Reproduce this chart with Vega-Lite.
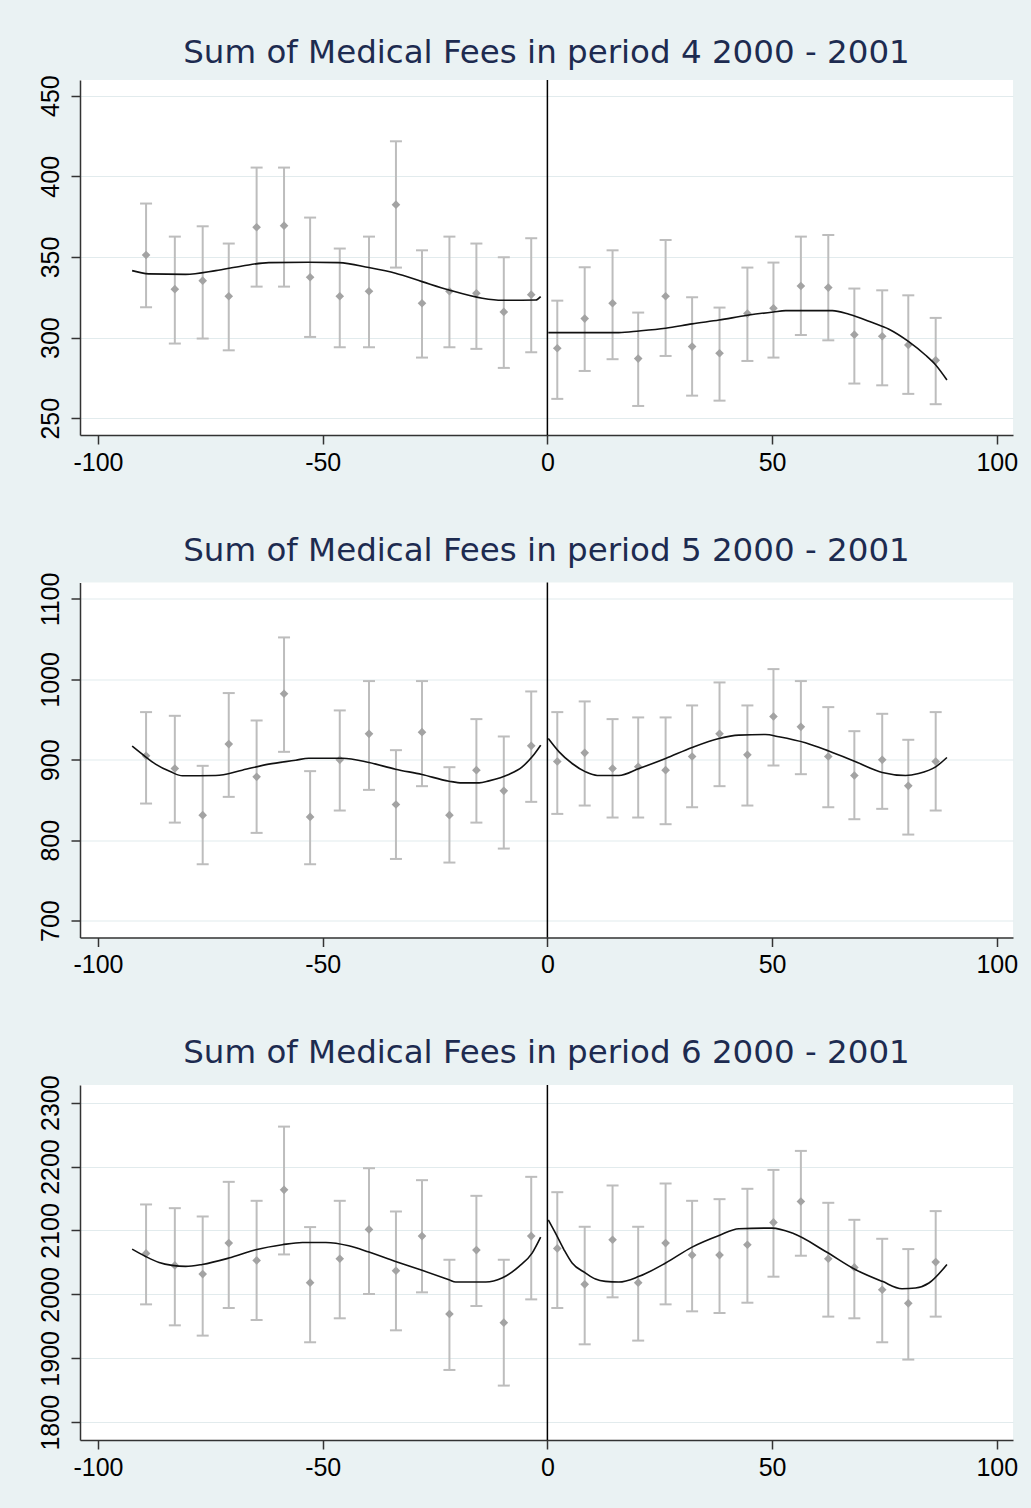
{
  "$schema": "https://vega.github.io/schema/vega-lite/v6.json",
  "background": "#EAF2F3",
  "padding": {"left": 37, "top": 37, "right": 17, "bottom": 30},
  "spacing": 147.5,
  "bounds": "flush",
  "datasets": {
    "pts": [
      {"panel": 4, "x": -89.3, "y": 351.2, "lo": 318.8, "hi": 383.1},
      {"panel": 4, "x": -82.9, "y": 330.0, "lo": 296.3, "hi": 362.6},
      {"panel": 4, "x": -76.7, "y": 335.3, "lo": 299.4, "hi": 369.0},
      {"panel": 4, "x": -70.9, "y": 325.6, "lo": 292.1, "hi": 358.3},
      {"panel": 4, "x": -64.7, "y": 368.4, "lo": 331.6, "hi": 405.4},
      {"panel": 4, "x": -58.6, "y": 369.4, "lo": 331.6, "hi": 405.4},
      {"panel": 4, "x": -52.8, "y": 337.4, "lo": 300.4, "hi": 374.4},
      {"panel": 4, "x": -46.2, "y": 325.6, "lo": 294.0, "hi": 355.2},
      {"panel": 4, "x": -39.7, "y": 328.7, "lo": 294.0, "hi": 362.6},
      {"panel": 4, "x": -33.7, "y": 382.4, "lo": 343.4, "hi": 421.7},
      {"panel": 4, "x": -27.9, "y": 321.3, "lo": 287.6, "hi": 354.1},
      {"panel": 4, "x": -21.8, "y": 328.7, "lo": 294.0, "hi": 362.6},
      {"panel": 4, "x": -15.8, "y": 327.5, "lo": 293.0, "hi": 358.3},
      {"panel": 4, "x": -9.7, "y": 315.9, "lo": 281.2, "hi": 349.8},
      {"panel": 4, "x": -3.6, "y": 326.6, "lo": 290.9, "hi": 361.6},
      {"panel": 4, "x": 2.2, "y": 293.4, "lo": 262.0, "hi": 322.9},
      {"panel": 4, "x": 8.3, "y": 311.8, "lo": 279.3, "hi": 343.6},
      {"panel": 4, "x": 14.5, "y": 321.3, "lo": 286.6, "hi": 354.1},
      {"panel": 4, "x": 20.2, "y": 287.0, "lo": 257.6, "hi": 315.5},
      {"panel": 4, "x": 26.3, "y": 325.6, "lo": 288.6, "hi": 360.5},
      {"panel": 4, "x": 32.2, "y": 294.4, "lo": 264.0, "hi": 325.0},
      {"panel": 4, "x": 38.3, "y": 290.3, "lo": 260.9, "hi": 318.6},
      {"panel": 4, "x": 44.5, "y": 314.9, "lo": 285.5, "hi": 343.4},
      {"panel": 4, "x": 50.3, "y": 318.2, "lo": 287.6, "hi": 346.5},
      {"panel": 4, "x": 56.4, "y": 332.0, "lo": 301.6, "hi": 362.6},
      {"panel": 4, "x": 62.5, "y": 331.0, "lo": 298.3, "hi": 363.6},
      {"panel": 4, "x": 68.3, "y": 301.8, "lo": 271.5, "hi": 330.4},
      {"panel": 4, "x": 74.5, "y": 300.8, "lo": 270.4, "hi": 329.3},
      {"panel": 4, "x": 80.3, "y": 295.4, "lo": 265.1, "hi": 326.2},
      {"panel": 4, "x": 86.4, "y": 285.9, "lo": 258.7, "hi": 312.2},
      {"panel": 5, "x": -89.3, "y": 904.9, "lo": 845.6, "hi": 959.3},
      {"panel": 5, "x": -82.9, "y": 889.2, "lo": 821.9, "hi": 954.7},
      {"panel": 5, "x": -76.7, "y": 831.1, "lo": 770.1, "hi": 892.5},
      {"panel": 5, "x": -70.9, "y": 919.5, "lo": 853.9, "hi": 983.0},
      {"panel": 5, "x": -64.7, "y": 878.8, "lo": 809.1, "hi": 948.9},
      {"panel": 5, "x": -58.6, "y": 982.1, "lo": 909.9, "hi": 1052.2},
      {"panel": 5, "x": -52.8, "y": 829.0, "lo": 770.1, "hi": 885.9},
      {"panel": 5, "x": -46.2, "y": 900.0, "lo": 836.9, "hi": 961.4},
      {"panel": 5, "x": -39.7, "y": 932.3, "lo": 862.6, "hi": 997.9},
      {"panel": 5, "x": -33.7, "y": 844.4, "lo": 776.7, "hi": 912.0},
      {"panel": 5, "x": -27.9, "y": 934.4, "lo": 867.2, "hi": 997.9},
      {"panel": 5, "x": -21.8, "y": 831.1, "lo": 772.2, "hi": 890.8},
      {"panel": 5, "x": -15.8, "y": 887.1, "lo": 821.9, "hi": 950.6},
      {"panel": 5, "x": -9.7, "y": 861.4, "lo": 789.6, "hi": 929.0},
      {"panel": 5, "x": -3.6, "y": 917.4, "lo": 847.7, "hi": 985.0},
      {"panel": 5, "x": 2.2, "y": 897.9, "lo": 832.7, "hi": 959.3},
      {"panel": 5, "x": 8.3, "y": 908.7, "lo": 843.1, "hi": 972.6},
      {"panel": 5, "x": 14.5, "y": 889.2, "lo": 828.2, "hi": 950.6},
      {"panel": 5, "x": 20.2, "y": 891.3, "lo": 828.2, "hi": 952.7},
      {"panel": 5, "x": 26.3, "y": 887.1, "lo": 819.9, "hi": 952.7},
      {"panel": 5, "x": 32.2, "y": 904.1, "lo": 841.0, "hi": 967.6},
      {"panel": 5, "x": 38.3, "y": 932.3, "lo": 867.2, "hi": 996.2},
      {"panel": 5, "x": 44.5, "y": 906.2, "lo": 843.1, "hi": 967.6},
      {"panel": 5, "x": 50.3, "y": 953.9, "lo": 892.9, "hi": 1012.8},
      {"panel": 5, "x": 56.4, "y": 941.0, "lo": 882.1, "hi": 997.9},
      {"panel": 5, "x": 62.5, "y": 904.1, "lo": 841.0, "hi": 965.5},
      {"panel": 5, "x": 68.3, "y": 880.5, "lo": 826.1, "hi": 935.6},
      {"panel": 5, "x": 74.5, "y": 900.0, "lo": 839.0, "hi": 957.2},
      {"panel": 5, "x": 80.3, "y": 867.6, "lo": 807.0, "hi": 924.9},
      {"panel": 5, "x": 86.4, "y": 897.9, "lo": 836.9, "hi": 959.3},
      {"panel": 6, "x": -89.3, "y": 2064.1, "lo": 1984.4, "hi": 2140.7},
      {"panel": 6, "x": -82.9, "y": 2045.4, "lo": 1951.6, "hi": 2134.9},
      {"panel": 6, "x": -76.7, "y": 2031.8, "lo": 1935.5, "hi": 2121.9},
      {"panel": 6, "x": -70.9, "y": 2080.3, "lo": 1978.7, "hi": 2176.1},
      {"panel": 6, "x": -64.7, "y": 2053.2, "lo": 1959.9, "hi": 2146.4},
      {"panel": 6, "x": -58.6, "y": 2163.6, "lo": 2062.5, "hi": 2262.5},
      {"panel": 6, "x": -52.8, "y": 2018.3, "lo": 1925.1, "hi": 2105.3},
      {"panel": 6, "x": -46.2, "y": 2055.8, "lo": 1962.6, "hi": 2146.4},
      {"panel": 6, "x": -39.7, "y": 2101.6, "lo": 2000.6, "hi": 2197.4},
      {"panel": 6, "x": -33.7, "y": 2037.0, "lo": 1943.8, "hi": 2129.7},
      {"panel": 6, "x": -27.9, "y": 2091.2, "lo": 2003.2, "hi": 2178.7},
      {"panel": 6, "x": -21.8, "y": 1969.3, "lo": 1881.8, "hi": 2054.2},
      {"panel": 6, "x": -15.8, "y": 2069.3, "lo": 1981.8, "hi": 2154.2},
      {"panel": 6, "x": -9.7, "y": 1955.8, "lo": 1857.3, "hi": 2054.2},
      {"panel": 6, "x": -3.6, "y": 2091.2, "lo": 1992.2, "hi": 2183.9},
      {"panel": 6, "x": 2.2, "y": 2071.9, "lo": 1978.7, "hi": 2159.9},
      {"panel": 6, "x": 8.3, "y": 2015.7, "lo": 1921.9, "hi": 2105.8},
      {"panel": 6, "x": 14.5, "y": 2085.5, "lo": 1995.4, "hi": 2170.4},
      {"panel": 6, "x": 20.2, "y": 2018.3, "lo": 1927.7, "hi": 2105.8},
      {"panel": 6, "x": 26.3, "y": 2080.3, "lo": 1984.4, "hi": 2173.5},
      {"panel": 6, "x": 32.2, "y": 2061.5, "lo": 1973.5, "hi": 2146.4},
      {"panel": 6, "x": 38.3, "y": 2061.5, "lo": 1970.9, "hi": 2149.0},
      {"panel": 6, "x": 44.5, "y": 2077.7, "lo": 1987.0, "hi": 2165.2},
      {"panel": 6, "x": 50.3, "y": 2112.6, "lo": 2027.7, "hi": 2194.8},
      {"panel": 6, "x": 56.4, "y": 2145.4, "lo": 2060.5, "hi": 2224.5},
      {"panel": 6, "x": 62.5, "y": 2055.8, "lo": 1965.2, "hi": 2143.3},
      {"panel": 6, "x": 68.3, "y": 2042.2, "lo": 1962.6, "hi": 2116.7},
      {"panel": 6, "x": 74.5, "y": 2007.3, "lo": 1925.1, "hi": 2087.0},
      {"panel": 6, "x": 80.3, "y": 1986.0, "lo": 1898.0, "hi": 2070.9},
      {"panel": 6, "x": 86.4, "y": 2050.6, "lo": 1965.2, "hi": 2130.3}
    ],
    "fit": [
      {"panel": 4, "side": "L", "x": -92.4, "y": 341.5},
      {"panel": 4, "side": "L", "x": -88.7, "y": 339.5},
      {"panel": 4, "side": "L", "x": -80.5, "y": 339.2},
      {"panel": 4, "side": "L", "x": -73.8, "y": 341.5},
      {"panel": 4, "side": "L", "x": -67.9, "y": 344.4},
      {"panel": 4, "side": "L", "x": -62.0, "y": 346.5},
      {"panel": 4, "side": "L", "x": -53.1, "y": 346.7},
      {"panel": 4, "side": "L", "x": -46.4, "y": 346.5},
      {"panel": 4, "side": "L", "x": -39.7, "y": 343.4},
      {"panel": 4, "side": "L", "x": -33.8, "y": 339.9},
      {"panel": 4, "side": "L", "x": -27.9, "y": 334.7},
      {"panel": 4, "side": "L", "x": -21.9, "y": 329.5},
      {"panel": 4, "side": "L", "x": -14.5, "y": 324.4},
      {"panel": 4, "side": "L", "x": -10.1, "y": 323.1},
      {"panel": 4, "side": "L", "x": -2.6, "y": 323.3},
      {"panel": 4, "side": "L", "x": -1.5, "y": 325.4},
      {"panel": 4, "side": "R", "x": 0.2, "y": 303.1},
      {"panel": 4, "side": "R", "x": 15.9, "y": 303.1},
      {"panel": 4, "side": "R", "x": 20.4, "y": 304.1},
      {"panel": 4, "side": "R", "x": 26.3, "y": 305.8},
      {"panel": 4, "side": "R", "x": 32.2, "y": 308.5},
      {"panel": 4, "side": "R", "x": 38.2, "y": 310.9},
      {"panel": 4, "side": "R", "x": 44.5, "y": 313.8},
      {"panel": 4, "side": "R", "x": 50.3, "y": 315.9},
      {"panel": 4, "side": "R", "x": 53.0, "y": 316.7},
      {"panel": 4, "side": "R", "x": 63.4, "y": 316.7},
      {"panel": 4, "side": "R", "x": 67.1, "y": 314.5},
      {"panel": 4, "side": "R", "x": 72.3, "y": 309.3},
      {"panel": 4, "side": "R", "x": 76.0, "y": 305.2},
      {"panel": 4, "side": "R", "x": 80.4, "y": 297.5},
      {"panel": 4, "side": "R", "x": 84.1, "y": 289.2},
      {"panel": 4, "side": "R", "x": 86.4, "y": 283.0},
      {"panel": 4, "side": "R", "x": 88.9, "y": 273.7},
      {"panel": 5, "side": "L", "x": -92.4, "y": 917.0},
      {"panel": 5, "side": "L", "x": -89.4, "y": 903.7},
      {"panel": 5, "side": "L", "x": -87.2, "y": 894.6},
      {"panel": 5, "side": "L", "x": -83.8, "y": 885.0},
      {"panel": 5, "side": "L", "x": -81.2, "y": 880.1},
      {"panel": 5, "side": "L", "x": -73.8, "y": 880.5},
      {"panel": 5, "side": "L", "x": -67.9, "y": 887.1},
      {"panel": 5, "side": "L", "x": -62.0, "y": 894.6},
      {"panel": 5, "side": "L", "x": -56.0, "y": 899.5},
      {"panel": 5, "side": "L", "x": -53.1, "y": 902.0},
      {"panel": 5, "side": "L", "x": -45.6, "y": 902.0},
      {"panel": 5, "side": "L", "x": -39.7, "y": 896.6},
      {"panel": 5, "side": "L", "x": -33.8, "y": 888.3},
      {"panel": 5, "side": "L", "x": -27.9, "y": 881.7},
      {"panel": 5, "side": "L", "x": -21.9, "y": 873.4},
      {"panel": 5, "side": "L", "x": -19.0, "y": 871.3},
      {"panel": 5, "side": "L", "x": -15.2, "y": 871.3},
      {"panel": 5, "side": "L", "x": -13.0, "y": 873.8},
      {"panel": 5, "side": "L", "x": -8.6, "y": 881.7},
      {"panel": 5, "side": "L", "x": -5.6, "y": 891.3},
      {"panel": 5, "side": "L", "x": -3.4, "y": 903.7},
      {"panel": 5, "side": "L", "x": -1.5, "y": 918.2},
      {"panel": 5, "side": "R", "x": 0.2, "y": 926.5},
      {"panel": 5, "side": "R", "x": 2.6, "y": 909.9},
      {"panel": 5, "side": "R", "x": 5.5, "y": 895.4},
      {"panel": 5, "side": "R", "x": 8.5, "y": 885.0},
      {"panel": 5, "side": "R", "x": 11.1, "y": 880.5},
      {"panel": 5, "side": "R", "x": 15.9, "y": 880.5},
      {"panel": 5, "side": "R", "x": 20.4, "y": 889.2},
      {"panel": 5, "side": "R", "x": 26.3, "y": 901.6},
      {"panel": 5, "side": "R", "x": 32.2, "y": 915.3},
      {"panel": 5, "side": "R", "x": 38.2, "y": 926.5},
      {"panel": 5, "side": "R", "x": 42.6, "y": 930.7},
      {"panel": 5, "side": "R", "x": 48.5, "y": 931.5},
      {"panel": 5, "side": "R", "x": 51.5, "y": 928.6},
      {"panel": 5, "side": "R", "x": 57.4, "y": 921.1},
      {"panel": 5, "side": "R", "x": 62.6, "y": 910.8},
      {"panel": 5, "side": "R", "x": 68.6, "y": 897.5},
      {"panel": 5, "side": "R", "x": 74.5, "y": 884.2},
      {"panel": 5, "side": "R", "x": 79.7, "y": 880.5},
      {"panel": 5, "side": "R", "x": 82.6, "y": 883.0},
      {"panel": 5, "side": "R", "x": 86.4, "y": 891.3},
      {"panel": 5, "side": "R", "x": 88.9, "y": 902.9},
      {"panel": 6, "side": "L", "x": -92.4, "y": 2070.9},
      {"panel": 6, "side": "L", "x": -89.4, "y": 2059.4},
      {"panel": 6, "side": "L", "x": -86.4, "y": 2050.0},
      {"panel": 6, "side": "L", "x": -83.5, "y": 2045.4},
      {"panel": 6, "side": "L", "x": -80.5, "y": 2043.8},
      {"panel": 6, "side": "L", "x": -76.8, "y": 2046.9},
      {"panel": 6, "side": "L", "x": -70.9, "y": 2056.8},
      {"panel": 6, "side": "L", "x": -64.9, "y": 2069.8},
      {"panel": 6, "side": "L", "x": -59.0, "y": 2077.7},
      {"panel": 6, "side": "L", "x": -54.5, "y": 2081.3},
      {"panel": 6, "side": "L", "x": -49.3, "y": 2081.3},
      {"panel": 6, "side": "L", "x": -44.2, "y": 2076.1},
      {"panel": 6, "side": "L", "x": -39.7, "y": 2066.2},
      {"panel": 6, "side": "L", "x": -33.8, "y": 2051.6},
      {"panel": 6, "side": "L", "x": -27.9, "y": 2037.6},
      {"panel": 6, "side": "L", "x": -21.9, "y": 2023.0},
      {"panel": 6, "side": "L", "x": -20.4, "y": 2019.3},
      {"panel": 6, "side": "L", "x": -13.7, "y": 2019.3},
      {"panel": 6, "side": "L", "x": -10.1, "y": 2025.6},
      {"panel": 6, "side": "L", "x": -6.3, "y": 2043.8},
      {"panel": 6, "side": "L", "x": -3.4, "y": 2064.6},
      {"panel": 6, "side": "L", "x": -1.5, "y": 2089.6},
      {"panel": 6, "side": "R", "x": 0.2, "y": 2116.7},
      {"panel": 6, "side": "R", "x": 1.8, "y": 2095.9},
      {"panel": 6, "side": "R", "x": 3.7, "y": 2069.8},
      {"panel": 6, "side": "R", "x": 5.5, "y": 2049.0},
      {"panel": 6, "side": "R", "x": 8.5, "y": 2033.4},
      {"panel": 6, "side": "R", "x": 10.7, "y": 2024.0},
      {"panel": 6, "side": "R", "x": 12.9, "y": 2020.4},
      {"panel": 6, "side": "R", "x": 15.9, "y": 2019.3},
      {"panel": 6, "side": "R", "x": 20.4, "y": 2028.2},
      {"panel": 6, "side": "R", "x": 26.3, "y": 2049.0},
      {"panel": 6, "side": "R", "x": 32.2, "y": 2074.0},
      {"panel": 6, "side": "R", "x": 38.2, "y": 2092.2},
      {"panel": 6, "side": "R", "x": 42.6, "y": 2102.7},
      {"panel": 6, "side": "R", "x": 50.0, "y": 2103.7},
      {"panel": 6, "side": "R", "x": 54.5, "y": 2095.9},
      {"panel": 6, "side": "R", "x": 61.9, "y": 2067.2},
      {"panel": 6, "side": "R", "x": 68.6, "y": 2038.6},
      {"panel": 6, "side": "R", "x": 74.5, "y": 2020.4},
      {"panel": 6, "side": "R", "x": 78.9, "y": 2008.9},
      {"panel": 6, "side": "R", "x": 81.9, "y": 2010.0},
      {"panel": 6, "side": "R", "x": 84.9, "y": 2017.8},
      {"panel": 6, "side": "R", "x": 88.9, "y": 2046.9}
    ]
  },
  "vconcat": [
    {
      "title": "Sum of Medical Fees in period 4 2000 - 2001",
      "width": 933, "height": 355,
      "layer": [
        {"data": {"values": [{}]}, "mark": {"type": "rule", "color": "#000000", "strokeWidth": 1.5},
         "encoding": {"x": {"datum": 0, "type": "quantitative", "title": null, "scale": {"domain": [-104, 103.6], "nice": false, "zero": false}, "axis": {"values": [-100, -50, 0, 50, 100]}}}},
        {"data": {"name": "pts"}, "transform": [{"filter": "datum.panel == 4"}], "mark": {"type": "rule", "color": "#BDBDBD", "strokeWidth": 2},
         "encoding": {"x": {"field": "x", "type": "quantitative", "title": null}, "y": {"field": "lo", "type": "quantitative", "title": null, "scale": {"domain": [239.6, 459.7], "nice": false, "zero": false}, "axis": {"values": [250, 300, 350, 400, 450]}}, "y2": {"field": "hi"}}},
        {"data": {"name": "pts"}, "transform": [{"filter": "datum.panel == 4"}], "mark": {"type": "tick", "orient": "horizontal", "size": 12, "thickness": 2, "color": "#BDBDBD", "opacity": 1},
         "encoding": {"x": {"field": "x", "type": "quantitative", "title": null}, "y": {"field": "lo", "type": "quantitative", "title": null}}},
        {"data": {"name": "pts"}, "transform": [{"filter": "datum.panel == 4"}], "mark": {"type": "tick", "orient": "horizontal", "size": 12, "thickness": 2, "color": "#BDBDBD", "opacity": 1},
         "encoding": {"x": {"field": "x", "type": "quantitative", "title": null}, "y": {"field": "hi", "type": "quantitative", "title": null}}},
        {"data": {"name": "pts"}, "transform": [{"filter": "datum.panel == 4"}], "mark": {"type": "point", "shape": "diamond", "filled": true, "size": 75, "color": "#A3A3A3", "opacity": 1},
         "encoding": {"x": {"field": "x", "type": "quantitative", "title": null}, "y": {"field": "y", "type": "quantitative", "title": null}}},
        {"data": {"name": "fit"}, "transform": [{"filter": "datum.panel == 4"}], "mark": {"type": "line", "color": "#111111", "strokeWidth": 1.6, "interpolate": "monotone"},
         "encoding": {"x": {"field": "x", "type": "quantitative", "title": null}, "y": {"field": "y", "type": "quantitative", "title": null}, "detail": {"field": "side"}}}
      ]
    },
    {
      "title": "Sum of Medical Fees in period 5 2000 - 2001",
      "width": 933, "height": 355,
      "layer": [
        {"data": {"values": [{}]}, "mark": {"type": "rule", "color": "#000000", "strokeWidth": 1.5},
         "encoding": {"x": {"datum": 0, "type": "quantitative", "title": null, "scale": {"domain": [-104, 103.6], "nice": false, "zero": false}, "axis": {"values": [-100, -50, 0, 50, 100]}}}},
        {"data": {"name": "pts"}, "transform": [{"filter": "datum.panel == 5"}], "mark": {"type": "rule", "color": "#BDBDBD", "strokeWidth": 2},
         "encoding": {"x": {"field": "x", "type": "quantitative", "title": null}, "y": {"field": "lo", "type": "quantitative", "title": null, "scale": {"domain": [679, 1120.5], "nice": false, "zero": false}, "axis": {"values": [700, 800, 900, 1000, 1100]}}, "y2": {"field": "hi"}}},
        {"data": {"name": "pts"}, "transform": [{"filter": "datum.panel == 5"}], "mark": {"type": "tick", "orient": "horizontal", "size": 12, "thickness": 2, "color": "#BDBDBD", "opacity": 1},
         "encoding": {"x": {"field": "x", "type": "quantitative", "title": null}, "y": {"field": "lo", "type": "quantitative", "title": null}}},
        {"data": {"name": "pts"}, "transform": [{"filter": "datum.panel == 5"}], "mark": {"type": "tick", "orient": "horizontal", "size": 12, "thickness": 2, "color": "#BDBDBD", "opacity": 1},
         "encoding": {"x": {"field": "x", "type": "quantitative", "title": null}, "y": {"field": "hi", "type": "quantitative", "title": null}}},
        {"data": {"name": "pts"}, "transform": [{"filter": "datum.panel == 5"}], "mark": {"type": "point", "shape": "diamond", "filled": true, "size": 75, "color": "#A3A3A3", "opacity": 1},
         "encoding": {"x": {"field": "x", "type": "quantitative", "title": null}, "y": {"field": "y", "type": "quantitative", "title": null}}},
        {"data": {"name": "fit"}, "transform": [{"filter": "datum.panel == 5"}], "mark": {"type": "line", "color": "#111111", "strokeWidth": 1.6, "interpolate": "monotone"},
         "encoding": {"x": {"field": "x", "type": "quantitative", "title": null}, "y": {"field": "y", "type": "quantitative", "title": null}, "detail": {"field": "side"}}}
      ]
    },
    {
      "title": "Sum of Medical Fees in period 6 2000 - 2001",
      "width": 933, "height": 355,
      "layer": [
        {"data": {"values": [{}]}, "mark": {"type": "rule", "color": "#000000", "strokeWidth": 1.5},
         "encoding": {"x": {"datum": 0, "type": "quantitative", "title": null, "scale": {"domain": [-104, 103.6], "nice": false, "zero": false}, "axis": {"values": [-100, -50, 0, 50, 100]}}}},
        {"data": {"name": "pts"}, "transform": [{"filter": "datum.panel == 6"}], "mark": {"type": "rule", "color": "#BDBDBD", "strokeWidth": 2},
         "encoding": {"x": {"field": "x", "type": "quantitative", "title": null}, "y": {"field": "lo", "type": "quantitative", "title": null, "scale": {"domain": [1772.2, 2327.6], "nice": false, "zero": false}, "axis": {"values": [1800, 1900, 2000, 2100, 2200, 2300]}}, "y2": {"field": "hi"}}},
        {"data": {"name": "pts"}, "transform": [{"filter": "datum.panel == 6"}], "mark": {"type": "tick", "orient": "horizontal", "size": 12, "thickness": 2, "color": "#BDBDBD", "opacity": 1},
         "encoding": {"x": {"field": "x", "type": "quantitative", "title": null}, "y": {"field": "lo", "type": "quantitative", "title": null}}},
        {"data": {"name": "pts"}, "transform": [{"filter": "datum.panel == 6"}], "mark": {"type": "tick", "orient": "horizontal", "size": 12, "thickness": 2, "color": "#BDBDBD", "opacity": 1},
         "encoding": {"x": {"field": "x", "type": "quantitative", "title": null}, "y": {"field": "hi", "type": "quantitative", "title": null}}},
        {"data": {"name": "pts"}, "transform": [{"filter": "datum.panel == 6"}], "mark": {"type": "point", "shape": "diamond", "filled": true, "size": 75, "color": "#A3A3A3", "opacity": 1},
         "encoding": {"x": {"field": "x", "type": "quantitative", "title": null}, "y": {"field": "y", "type": "quantitative", "title": null}}},
        {"data": {"name": "fit"}, "transform": [{"filter": "datum.panel == 6"}], "mark": {"type": "line", "color": "#111111", "strokeWidth": 1.6, "interpolate": "monotone"},
         "encoding": {"x": {"field": "x", "type": "quantitative", "title": null}, "y": {"field": "y", "type": "quantitative", "title": null}, "detail": {"field": "side"}}}
      ]
    }
  ],
  "config": {
    "view": {"fill": "#FFFFFF", "stroke": null},
    "axis": {"labelFont": "Liberation Sans", "labelFontSize": 25, "labelColor": "#000000", "domainColor": "#333333", "domainWidth": 1.5, "tickColor": "#333333", "tickWidth": 1.5, "tickSize": 9, "labelFlush": false, "labelOverlap": false, "gridColor": "#E2EBED", "gridWidth": 1.2, "labelExpr": "'' + datum.value"},
    "axisX": {"grid": false, "labelPadding": 6},
    "axisY": {"grid": true, "labelAngle": -90, "labelPadding": 8},
    "title": {"font": "DejaVu Sans", "fontSize": 32.5, "fontWeight": "normal", "color": "#1D2B50", "anchor": "middle", "offset": 5}
  }
}
